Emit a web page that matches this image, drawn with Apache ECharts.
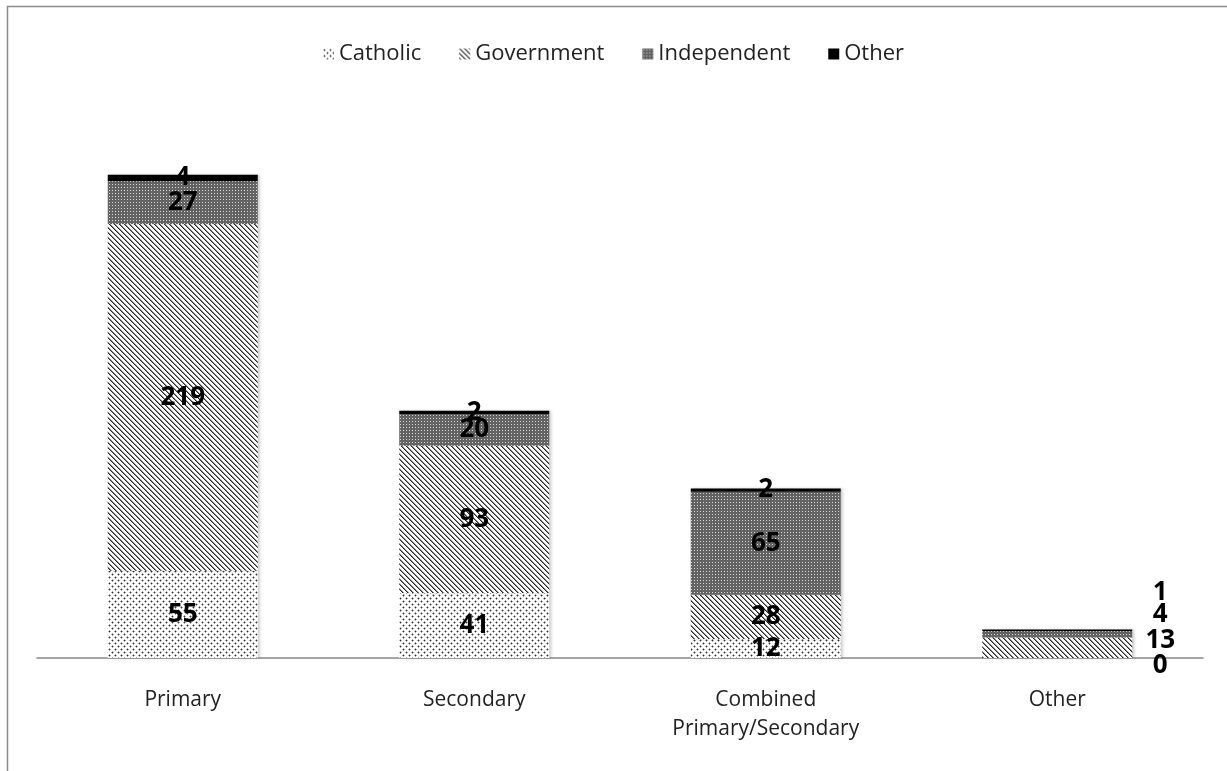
<!DOCTYPE html>
<html>
<head>
<meta charset="utf-8">
<script src="https://cdn.jsdelivr.net/npm/echarts@6/dist/echarts.min.js"></script>
<style>
  html, body { margin: 0; padding: 0; background: #fff; }
  #main { width: 1227px; height: 771px; }
</style>
</head>
<body>
<div id="main"></div>
<script>
var categories = ['Primary', 'Secondary', 'Combined\nPrimary/Secondary', 'Other'];
var seriesNames = ['Catholic', 'Government', 'Independent', 'Other'];
var catholic = [55, 41, 12, 0];
var government = [219, 93, 28, 13];
var independent = [27, 20, 65, 4];
var other = [4, 2, 2, 1];

// label nudges for the thin "Other" column (labels sit to its right)
var otherLabelShift = [8, -7, -20, -38];

function makeTile(size, draw) {
  var c = document.createElement('canvas');
  c.width = size; c.height = size;
  draw(c.getContext('2d'), size);
  return c;
}

var dotTile = makeTile(6, function (ctx, s) {
  ctx.fillStyle = '#fff'; ctx.fillRect(0, 0, s, s);
  [[1, 1], [4, 4]].forEach(function (p) {
    ctx.fillStyle = '#aaa';
    ctx.fillRect(p[0] - 1, p[1], 3, 1);
    ctx.fillRect(p[0], p[1] - 1, 1, 3);
    ctx.fillStyle = '#333';
    ctx.fillRect(p[0], p[1], 1, 1);
  });
});

var stripeTile = makeTile(5, function (ctx, s) {
  ctx.fillStyle = '#fff'; ctx.fillRect(0, 0, s, s);
  for (var y = 0; y < s; y++) {
    for (var x = 0; x < s; x++) {
      var d = ((x - y) % s + s) % s;
      if (d === 0) { ctx.fillStyle = '#2a2a2a'; ctx.fillRect(x, y, 1, 1); }
      else if (d === 1) { ctx.fillStyle = '#888'; ctx.fillRect(x, y, 1, 1); }
    }
  }
});

var checkTile = makeTile(3, function (ctx, s) {
  ctx.fillStyle = '#636363'; ctx.fillRect(0, 0, s, s);
  ctx.fillStyle = '#d8d8d8'; ctx.fillRect(1, 1, 1, 1);
});

var fills = [
  { image: dotTile, repeat: 'repeat' },
  { image: stripeTile, repeat: 'repeat' },
  { image: checkTile, repeat: 'repeat' },
  '#000'
];
var values = [catholic, government, independent, other];

var font = '"Open Sans", sans-serif';

var series = values.map(function (vals, si) {
  return {
    name: seriesNames[si],
    type: 'bar',
    stack: 'total',
    barWidth: 150,
    itemStyle: {
      color: fills[si],
      shadowColor: 'rgba(0,0,0,0.2)',
      shadowBlur: 3,
      shadowOffsetX: 2
    },
    label: {
      show: true,
      position: 'inside',
      color: '#000',
      fontWeight: 'bold',
      fontSize: 26,
      fontFamily: font
    },
    data: vals.map(function (v, ci) {
      if (ci !== 3) return v;
      return {
        value: v,
        label: {
          position: 'right',
          align: 'center',
          distance: 28,
          offset: [0, otherLabelShift[si]]
        }
      };
    })
  };
});

var chart = echarts.init(document.getElementById('main'));
chart.setOption({
  animation: false,
  textStyle: { fontFamily: font },
  graphic: [{
    type: 'rect',
    shape: { x: 7.5, y: 6.5, width: 1400, height: 900 },
    style: { fill: 'none', stroke: '#8c8c8c', lineWidth: 1.5 },
    silent: true
  }],
  legend: {
    top: 38,
    left: 'center',
    icon: 'rect',
    itemWidth: 11,
    itemHeight: 11,
    itemGap: 38,
    textStyle: { fontSize: 22, color: '#222', fontFamily: font },
    data: seriesNames
  },
  grid: { left: 37, right: 24, top: 151, bottom: 113, containLabel: false },
  xAxis: {
    type: 'category',
    data: categories,
    axisLine: { show: true, lineStyle: { color: '#888', width: 1.5 } },
    axisTick: { show: false },
    axisLabel: {
      color: '#222',
      fontSize: 21,
      fontFamily: font,
      margin: 28,
      lineHeight: 29,
      interval: 0
    }
  },
  yAxis: {
    type: 'value',
    min: 0,
    max: 320,
    show: false,
    splitLine: { show: false }
  },
  series: series
});
</script>
</body>
</html>
